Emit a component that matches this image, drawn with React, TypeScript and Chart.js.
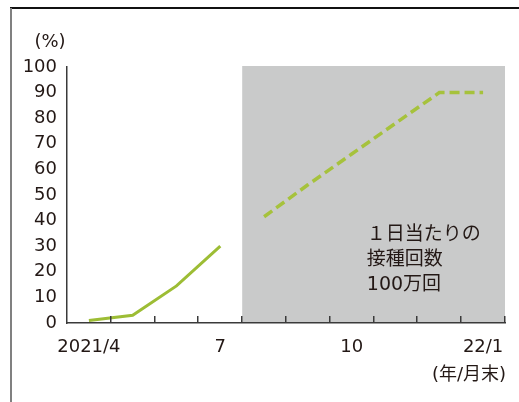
import { useEffect, useRef } from 'react';
import { Chart, registerables } from 'chart.js';

Chart.register(...registerables);

const categories = ['2021/4', '2021/5', '2021/6', '2021/7', '2021/8', '2021/9', '2021/10', '2021/11', '2021/12', '2022/1'];
const tickLabels = ['2021/4', '', '', '7', '', '', '10', '', '', '22/1'];
const actual = [1, 3, 14.5, 30, null, null, null, null, null, null];
const plan = [null, null, null, null, 41.5, 54, 66, 78, 90, 90];
const yMin = 0;
const yMax = 100;
const yStep = 10;
const shadeFrom = '2021/8';
const yUnit = '(%)';
const xUnit = '(年/月末)';
const noteLines = ['１日当たりの', '接種回数', '100万回'];

const FONT = '"DejaVu Sans", "Noto Sans CJK JP", sans-serif';
const TEXT = '#231815';
const AXIS = '#3a3a3a';

const decor = {
  id: 'decor',
  beforeDraw(chart: any) {
    const { ctx, chartArea, scales } = chart;
    const x = scales.x;
    const y = scales.y;
    ctx.save();
    ctx.strokeStyle = '#111';
    ctx.lineWidth = 2;
    ctx.beginPath();
    ctx.moveTo(10, 8);
    ctx.lineTo(chart.width, 8);
    ctx.stroke();
    ctx.strokeStyle = '#808080';
    ctx.beginPath();
    ctx.moveTo(11, 8);
    ctx.lineTo(11, chart.height);
    ctx.stroke();
    const step = (chartArea.right - chartArea.left) / categories.length;
    const idx = categories.indexOf(shadeFrom);
    const left = x.getPixelForValue(idx) - step / 2;
    const top = y.getPixelForValue(yMax);
    ctx.fillStyle = '#c9caca';
    ctx.fillRect(left, top - 1, chartArea.right - left, chartArea.bottom - top + 1);
    ctx.restore();
  },
  afterDatasetsDraw(chart: any) {
    const { ctx, chartArea, scales } = chart;
    const y = scales.y;
    ctx.save();
    const step = (chartArea.right - chartArea.left) / categories.length;
    ctx.strokeStyle = AXIS;
    ctx.lineWidth = 1.5;
    for (let i = 1; i <= categories.length; i++) {
      const px = Math.round(chartArea.left + i * step) - 0.25;
      ctx.beginPath();
      ctx.moveTo(px, chartArea.bottom);
      ctx.lineTo(px, chartArea.bottom - 7);
      ctx.stroke();
    }
    ctx.fillStyle = TEXT;
    ctx.textBaseline = 'middle';
    ctx.font = '18px ' + FONT;
    ctx.textAlign = 'center';
    ctx.fillText(yUnit, 50, y.getPixelForValue(yMax) - 25);
    ctx.textAlign = 'right';
    ctx.fillText(xUnit, chartArea.right + 1, chartArea.bottom + 52);
    ctx.textAlign = 'left';
    ctx.font = '19px ' + FONT;
    const nx = chartArea.left + 6 * step + 37;
    const ny = y.getPixelForValue(34.5);
    noteLines.forEach((t, i) => ctx.fillText(t, nx, ny + i * 25));
    ctx.restore();
  },
};

export default function App() {
  const ref = useRef<HTMLCanvasElement>(null);
  useEffect(() => {
    if (!ref.current) return;
    const chart = new Chart(ref.current, {
      type: 'line',
      data: {
        labels: categories,
        datasets: [
          {
            data: actual,
            borderColor: '#9dbd35',
            borderWidth: 3,
            pointRadius: 0,
            tension: 0,
            spanGaps: false,
          },
          {
            data: plan,
            borderColor: '#a6c23c',
            borderWidth: 3.5,
            borderDash: [10, 5],
            pointRadius: 0,
            tension: 0,
            spanGaps: false,
          },
        ],
      },
      options: {
        responsive: false,
        animation: false,
        layout: { padding: { left: 0, right: 14, top: 67, bottom: 0 } },
        plugins: { legend: { display: false }, tooltip: { enabled: false } },
        scales: {
          x: {
            offset: true,
            grid: { display: false, drawTicks: false },
            border: { display: true, color: AXIS, width: 1.5 },
            ticks: {
              autoSkip: false,
              maxRotation: 0,
              padding: 14,
              color: TEXT,
              font: { family: FONT, size: 18 },
              callback: (_v: any, i: number) => tickLabels[i],
            },
            afterFit: (s: any) => { s.height = 79; s.paddingLeft = 0; s.paddingRight = 0; },
          },
          y: {
            min: yMin,
            max: yMax,
            grid: { display: false, drawTicks: false },
            border: { display: true, color: AXIS, width: 1.5 },
            ticks: {
              stepSize: yStep,
              padding: 10,
              color: TEXT,
              font: { family: FONT, size: 18 },
            },
            afterFit: (s: any) => { s.width = 67; s.paddingTop = 0; s.paddingBottom = 0; },
          },
        },
      },
      plugins: [decor],
    });
    return () => chart.destroy();
  }, []);
  return (
    <div style={{ position: 'absolute', left: 0, top: 0, width: 519, height: 402 }}>
      <canvas ref={ref} width={519} height={402} />
    </div>
  );
}
